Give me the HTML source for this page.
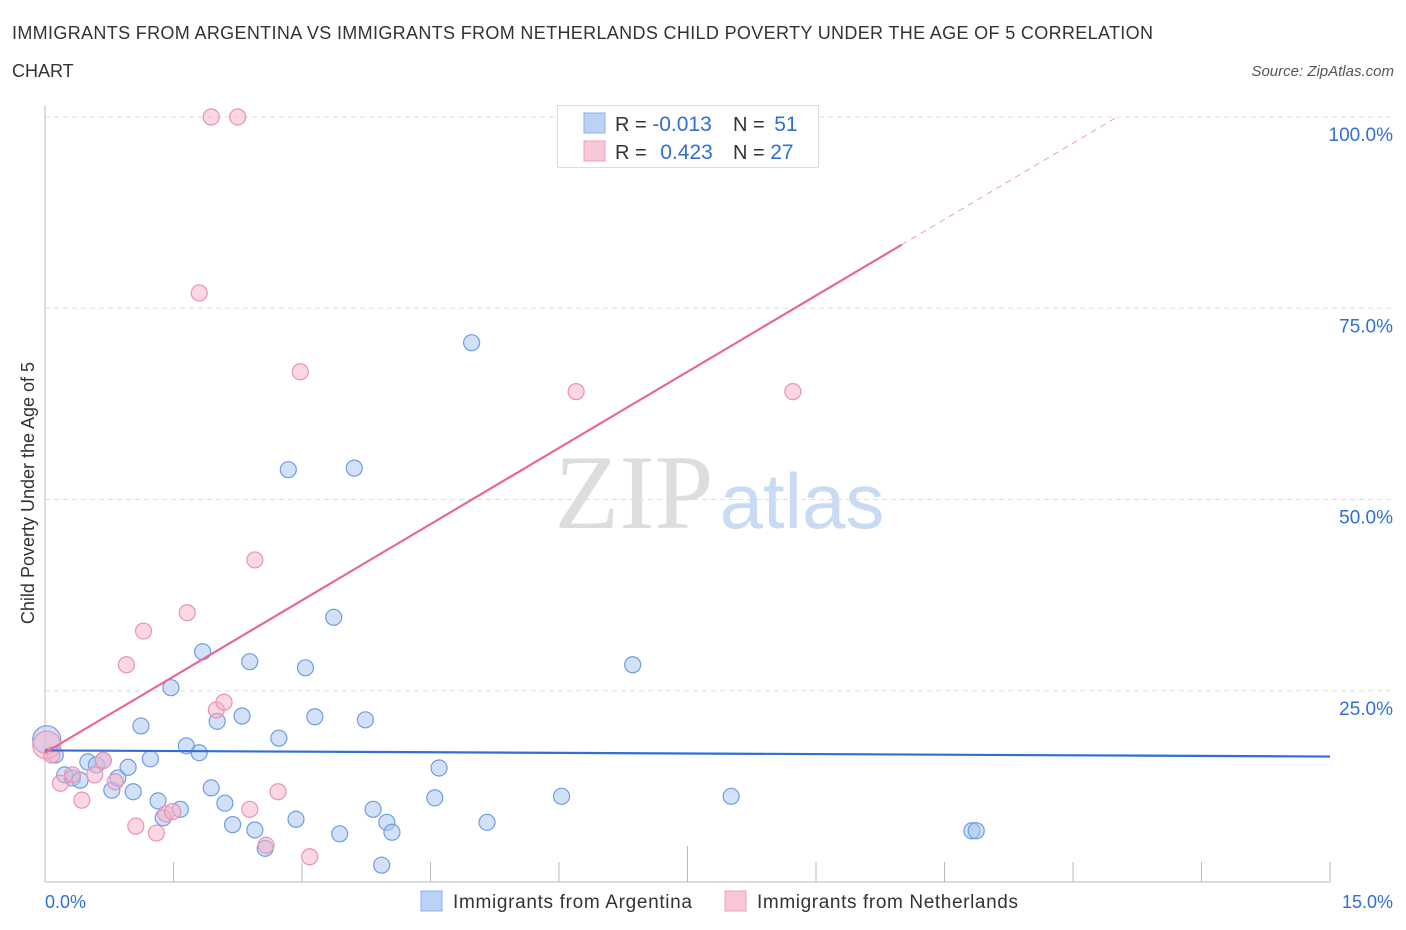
<!DOCTYPE html>
<html><head><meta charset="utf-8"><style>
body{margin:0;background:#fff;font-family:"Liberation Sans",sans-serif;}
svg{display:block}
</style></head><body>
<svg id="c" width="1406" height="930">
<text x="12" y="39" font-size="18" fill="#333" textLength="1141">IMMIGRANTS FROM ARGENTINA VS IMMIGRANTS FROM NETHERLANDS CHILD POVERTY UNDER THE AGE OF 5 CORRELATION</text>
<text x="12" y="77" font-size="18" fill="#333">CHART</text>
<text x="1394" y="76" font-size="15" fill="#555" font-style="italic" text-anchor="end">Source: ZipAtlas.com</text>
<g>
<text x="634" y="528" font-size="106" font-family="Liberation Serif,serif" fill="#ddd" text-anchor="middle">ZIP</text>
<text x="802" y="528" font-size="78" fill="#c8dbf3" text-anchor="middle">atlas</text>
</g>
<g id="grid"></g><g id="axes"></g><g id="marks"></g>
<g>
<rect x="557.5" y="105.5" width="261" height="62" fill="#fff" stroke="#ddd"/>
<rect x="584" y="113" width="21" height="20" fill="#b9d2f5" stroke="#8fb2e8"/>
<rect x="584" y="141" width="21" height="20" fill="#f9c6d6" stroke="#eca0ba"/>
<text x="615" y="131" font-size="20" fill="#333">R = <tspan fill="#2f6fd6" font-size="21">-0.013</tspan></text>
<text x="733" y="131" font-size="20" fill="#333">N = <tspan fill="#2f6fd6" dx="4" font-size="21">51</tspan></text>
<text x="615" y="159" font-size="20" fill="#333">R = <tspan fill="#2f6fd6" dx="8" font-size="21">0.423</tspan></text>
<text x="733" y="159" font-size="20" fill="#333">N = <tspan fill="#2f6fd6" font-size="21">27</tspan></text>
</g>
<text transform="translate(34,493) rotate(-90)" font-size="18" fill="#333" text-anchor="middle">Child Poverty Under the Age of 5</text>
<text x="45" y="908" font-size="18" fill="#2f6fd6">0.0%</text>
<text x="1393" y="908" font-size="18" fill="#2f6fd6" text-anchor="end">15.0%</text>
<g><rect x="421" y="891" width="21" height="20" fill="#b9d2f5" stroke="#8fb2e8"/><text x="453" y="908" font-size="19" fill="#333" textLength="239">Immigrants from Argentina</text></g>
<g><rect x="725" y="891" width="21" height="20" fill="#f9c6d6" stroke="#eca0ba"/><text x="757" y="908" font-size="19" fill="#333" textLength="261">Immigrants from Netherlands</text></g>
</svg>
<script>
const yTicks=[25,50,75,100];
const yTickLabels=["25.0%","50.0%","75.0%","100.0%"];
const blueX=[0.02,0.23,0.32,0.41,0.50,0.60,0.68,0.78,0.85,0.97,1.03,1.12,1.23,1.32,1.38,1.47,1.58,1.65,1.80,1.84,1.94,2.01,2.10,2.19,2.30,2.39,2.45,2.57,2.73,2.84,2.93,3.04,3.15,3.37,3.44,3.61,3.74,3.83,3.93,3.99,4.05,4.55,4.60,4.98,5.16,6.03,6.86,8.01,10.82,10.87,0.12];
const blueY=[18.6,14.0,13.6,13.3,15.7,15.3,15.9,12.0,13.6,15.0,11.8,20.4,16.1,10.6,8.4,25.4,9.5,17.8,16.9,30.1,12.3,21.0,10.3,7.5,21.7,28.8,6.8,4.4,18.8,53.9,8.2,28.0,21.6,34.6,6.3,54.1,21.2,9.5,2.2,7.8,6.5,11.0,14.9,70.5,7.8,11.2,28.4,11.2,6.7,6.7,16.6];
const pinkX=[0.02,0.08,0.18,0.32,0.43,0.58,0.68,0.82,0.95,1.06,1.15,1.30,1.41,1.49,1.66,1.80,1.94,2.00,2.09,2.25,2.39,2.45,2.58,2.72,2.98,3.09,6.20,8.73];
const pinkY=[17.9,16.6,12.9,14.0,10.7,14.0,15.9,13.1,28.4,7.3,32.8,6.4,8.9,9.2,35.2,77.0,100,22.5,23.5,100,9.5,42.1,4.8,11.8,66.7,3.3,64.1,64.1];
const blueFit=[17.2,16.4];
const pinkFit=[16.9,83.3];
const pinkFitEnd=10.0;
const X=v=>45+v/15*1285, Y=v=>882-v/100*765;
const NS="http://www.w3.org/2000/svg";
function mk(p,t,a){const e=document.createElementNS(NS,t);for(const k in a)e.setAttribute(k,a[k]);document.getElementById(p).appendChild(e);return e;}
yTicks.forEach((t,i)=>{
 const g=mk('grid','line',{x1:45,x2:1394,y1:Y(t),y2:Y(t),stroke:'#ddd','stroke-dasharray':'5,4'});
 
 
 const l=mk('grid','text',{x:1393,y:Y(t)+24,'font-size':19,fill:'#2f6fd6','text-anchor':'end'});
 l.textContent=yTickLabels[i];
 
 
});
const ya=mk('axes','line',{x1:45,x2:45,y1:105,y2:882,stroke:'#bbb'});


const xa=mk('axes','line',{x1:45,x2:1330,y1:882,y2:882,stroke:'#bbb'});


for(let i=0;i<=10;i++){
 const tk=mk('axes','line',{x1:X(i*1.5),x2:X(i*1.5),y1:882,y2:i==5?846:862,stroke:'#bbb'});
 
 
}
function pts(xs,ys,fill,stroke,name){
 xs.forEach((x,i)=>{
  const c=mk('marks','circle',{cx:X(x),cy:Y(ys[i]),r:i==0?14:8,fill:fill,stroke:stroke,'stroke-width':1.2});
  
  
 });
}
pts(blueX,blueY,'rgba(165,195,240,0.5)','#6e9de2','argentina-point');
pts(pinkX,pinkY,'rgba(247,175,200,0.5)','#ea93b3','netherlands-point');
const bl=mk('marks','line',{x1:X(0),x2:X(15),y1:Y(blueFit[0]),y2:Y(blueFit[1]),stroke:'#2f6fd6','stroke-width':2.2});


const pl=mk('marks','line',{x1:X(0),x2:X(pinkFitEnd),y1:Y(pinkFit[0]),y2:Y(pinkFit[1]),stroke:'#e8679a','stroke-width':2.2});


const slope=(pinkFit[1]-pinkFit[0])/pinkFitEnd, xe=(100-pinkFit[0])/slope;
const pd=mk('marks','line',{x1:X(pinkFitEnd),x2:X(xe),y1:Y(pinkFit[1]),y2:Y(100),stroke:'#eca0ba','stroke-width':1,'stroke-dasharray':'6,5'});


</script>
</body></html>
